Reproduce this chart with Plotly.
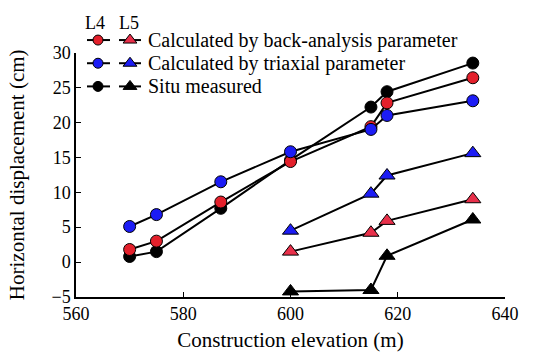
import plotly.graph_objects as go

# L4 (circles)
x_l4 = [570, 575, 587, 600, 615, 618, 634]
back_l4 = [1.8, 3.0, 8.6, 14.4, 19.4, 22.8, 26.4]
tri_l4 = [5.1, 6.8, 11.5, 15.8, 19.0, 21.0, 23.1]
situ_l4 = [0.8, 1.5, 7.7, 14.6, 22.2, 24.4, 28.5]

# L5 (triangles)
x_l5 = [600, 615, 618, 634]
back_l5 = [1.5, 4.2, 5.9, 9.0]
tri_l5 = [4.5, 9.8, 12.4, 15.6]
situ_l5 = [-4.2, -4.0, 0.9, 6.1]

legend_labels = ["Calculated by back-analysis parameter",
                 "Calculated by triaxial parameter",
                 "Situ measured"]

RED = "#e3202b"
RED5 = "#e8304a"
BLUE = "#1c1cf5"
BLACK = "#000000"
FONT = "Liberation Serif"

TOP_PX, BOT_PX, AX_TOP_PX = 3, 297, 44
main_dom_top = (BOT_PX - AX_TOP_PX) / (BOT_PX - TOP_PX)

fig = go.Figure()

def add(x, y, color, symbol, size):
    fig.add_trace(go.Scatter(
        x=x, y=y, mode="lines+markers",
        line=dict(color="black", width=2),
        marker=dict(color=color, symbol=symbol, size=size, opacity=1,
                    line=dict(color="black", width=1)),
        showlegend=False, cliponaxis=False))

add(x_l4, situ_l4, BLACK, "circle", 12)
add(x_l4, back_l4, RED, "circle", 12)
add(x_l4, tri_l4, BLUE, "circle", 12)
add(x_l5, situ_l5, BLACK, "triangle-up", 14)
add(x_l5, back_l5, RED5, "triangle-up", 14)
add(x_l5, tri_l5, BLUE, "triangle-up", 14)

# custom legend on a pixel-space overlay axis
rows_y = [31, 55, 79]
colors4 = [RED, BLUE, BLACK]
colors5 = [RED5, BLUE, BLACK]
for ry, c4, c5, lab in zip(rows_y, colors4, colors5, legend_labels):
    fig.add_trace(go.Scatter(x=[87, 110], y=[ry, ry], xaxis="x2", yaxis="y2",
                             mode="lines", line=dict(color="black", width=2),
                             showlegend=False, cliponaxis=False, hoverinfo="skip"))
    fig.add_trace(go.Scatter(x=[98], y=[ry], xaxis="x2", yaxis="y2",
                             mode="markers",
                             marker=dict(color=c4, symbol="circle", size=10, opacity=1,
                                         line=dict(color="black", width=1)),
                             showlegend=False, cliponaxis=False, hoverinfo="skip"))
    fig.add_trace(go.Scatter(x=[119, 141], y=[ry, ry], xaxis="x2", yaxis="y2",
                             mode="lines", line=dict(color="black", width=2),
                             showlegend=False, cliponaxis=False, hoverinfo="skip"))
    fig.add_trace(go.Scatter(x=[130], y=[ry], xaxis="x2", yaxis="y2",
                             mode="markers",
                             marker=dict(color=c5, symbol="triangle-up", size=12, opacity=1,
                                         line=dict(color="black", width=1)),
                             showlegend=False, cliponaxis=False, hoverinfo="skip"))
    fig.add_annotation(x=146, y=ry, xref="x2", yref="y2", text=lab, showarrow=False,
                       xanchor="left", yanchor="middle",
                       font=dict(family=FONT, size=20, color="black"))

for txt, xx in [("L4", 95), ("L5", 129)]:
    fig.add_annotation(x=xx, y=13, xref="x2", yref="y2", text=txt, showarrow=False,
                       xanchor="center", yanchor="middle",
                       font=dict(family=FONT, size=18, color="black"))

fig.update_layout(
    width=533, height=357,
    margin=dict(l=76, r=28, t=TOP_PX, b=357 - BOT_PX),
    paper_bgcolor="white", plot_bgcolor="rgba(0,0,0,0)",
    font=dict(family=FONT, size=18, color="black"),
    xaxis=dict(range=[560, 640], tickvals=[560, 580, 600, 620, 640],
               showgrid=False, zeroline=False, showline=True, linecolor="black",
               linewidth=1.5, ticks="inside", ticklen=5, tickcolor="black",
               tickfont=dict(family=FONT, size=18),
               title=dict(text="Construction elevation (m)",
                          font=dict(family=FONT, size=21), standoff=9)),
    yaxis=dict(range=[-5, 30], tickvals=[-5, 0, 5, 10, 15, 20, 25, 30],
               domain=[0, main_dom_top],
               showgrid=False, zeroline=False, showline=True, linecolor="black",
               linewidth=1.5, ticks="inside", ticklen=5, tickcolor="black",
               tickfont=dict(family=FONT, size=18),
               title=dict(text="Horizontal displacement (cm)",
                          font=dict(family=FONT, size=21), standoff=21)),
    xaxis2=dict(range=[76, 505], overlaying="x", visible=False, fixedrange=True),
    yaxis2=dict(range=[BOT_PX, TOP_PX], domain=[0, 1], anchor="x2",
                visible=False, fixedrange=True),
)

fig.write_html("out.html")
